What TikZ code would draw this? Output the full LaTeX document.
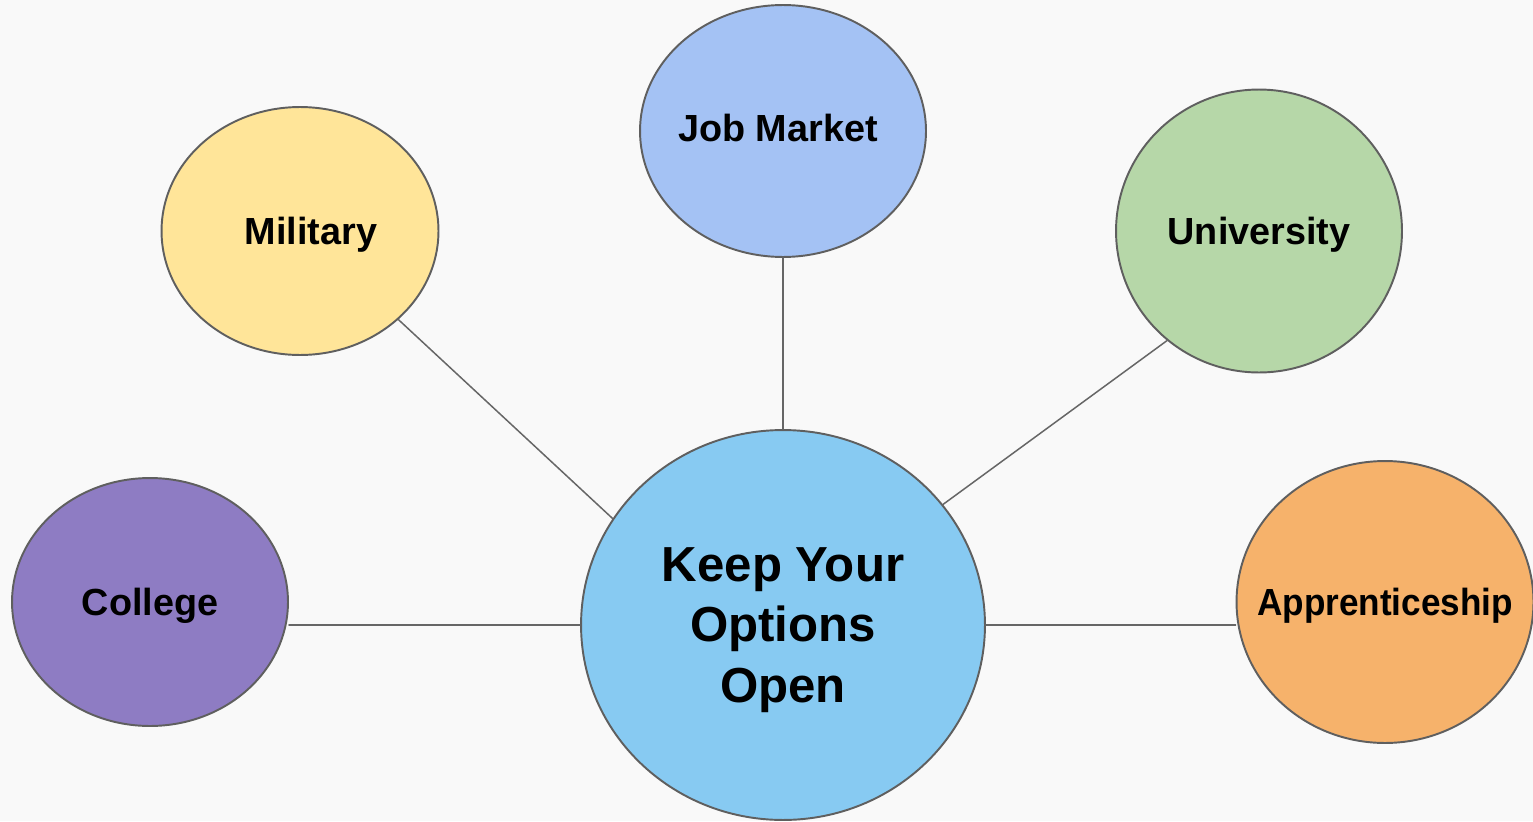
\documentclass[tikz,border=0pt]{standalone}
\usepackage{fontspec}
\setmainfont{Liberation Sans}
\usetikzlibrary{shapes.geometric}
\definecolor{bgcol}{HTML}{F9F9F9}
\definecolor{edgecol}{HTML}{5F5F5F}
\definecolor{linecol}{HTML}{666666}
\definecolor{maincol}{HTML}{87CAF2}
\definecolor{jobcol}{HTML}{A4C2F4}
\definecolor{milcol}{HTML}{FFE599}
\definecolor{unicol}{HTML}{B6D7A8}
\definecolor{colcol}{HTML}{8E7CC3}
\definecolor{appcol}{HTML}{F6B26B}
\tikzstyle{every path}=[line cap=round,line join=round]
\tikzstyle{bubble}=[ellipse,draw=edgecol,line width=1.1pt,inner sep=0pt,
  text height=15.4pt,text depth=0pt,
  font=\bfseries\fontsize{21.5}{26}\selectfont]
\tikzstyle{link}=[draw=linecol,line width=0.85pt]

\begin{document}
\begin{tikzpicture}[x=0.02cm,y=-0.02cm]
  \fill[bgcol] (0,0) rectangle (1533,821);
  \useasboundingbox (0,0) rectangle (1533,821);
  %
  \node[bubble,fill=maincol,minimum width=8.08cm,minimum height=7.8cm,align=center,
    text height=,text depth=0pt,
    font=\bfseries\fontsize{28}{34.4}\selectfont] (main) at (783,625)
    {Keep Your\\Options\\Open};
  \node[bubble,fill=jobcol,minimum width=5.72cm,minimum height=5.04cm] (job) at (783,131)
    {\makebox[0pt]{\raisebox{0.06cm}{Job Market}\hspace*{0.2cm}}};
  \node[bubble,fill=milcol,minimum width=5.54cm,minimum height=4.96cm] (military) at (300,231)
    {\makebox[0pt]{\hspace*{0.44cm}Military}};
  \node[bubble,fill=unicol,minimum width=5.72cm,minimum height=5.66cm] (university) at (1259,231)
    {\makebox[0pt]{University}};
  \node[bubble,fill=colcol,minimum width=5.52cm,minimum height=4.96cm] (college) at (150,602)
    {\makebox[0pt]{College}};
  \node[bubble,fill=appcol,minimum width=5.94cm,minimum height=5.64cm] (appr) at (1385,602)
    {\makebox[0pt]{\scalebox{0.93}[1]{Apprenticeship}}};
  %
  \draw[link] (military.-42) -- (main.148);
  \draw[link] (job.south) -- (main.north);
  \draw[link] (university.-130) -- (main.37);
  \draw[link] (main.west) -- (main.west -| college.east);
  \draw[link] (main.east) -- (main.east -| appr.west);
\end{tikzpicture}
\end{document}
